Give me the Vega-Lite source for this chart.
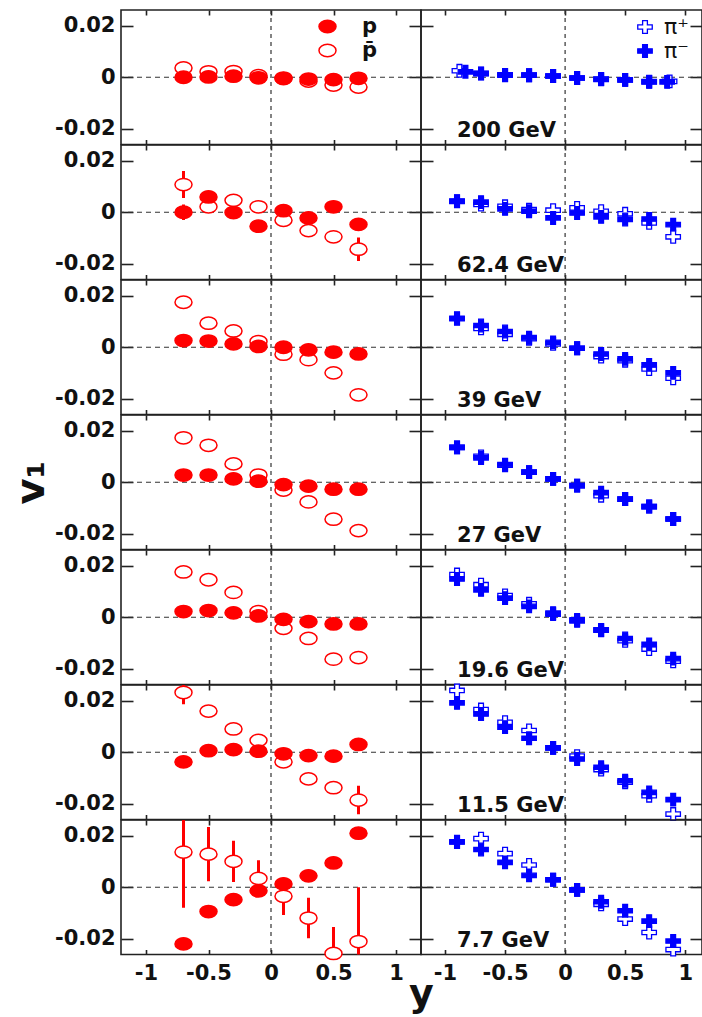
{
  "$schema": "https://vega.github.io/schema/vega-lite/v6.json",
  "background": "white",
  "padding": {"left": 10, "top": 8, "right": 2, "bottom": 0},
  "columns": 2,
  "spacing": 0,
  "align": "each",
  "bounds": "flush",
  "resolve": {"scale": {"fill": "independent"}, "legend": {"fill": "independent"}},
  "datasets": {
    "protons": [
      {"energy": "200 GeV", "species": "p̄", "rapidity": -0.7, "v1": 0.0036},
      {"energy": "200 GeV", "species": "p̄", "rapidity": -0.5, "v1": 0.0021},
      {"energy": "200 GeV", "species": "p̄", "rapidity": -0.3, "v1": 0.0022},
      {"energy": "200 GeV", "species": "p̄", "rapidity": -0.1, "v1": 0.0006},
      {"energy": "200 GeV", "species": "p̄", "rapidity": 0.1, "v1": -0.0003},
      {"energy": "200 GeV", "species": "p̄", "rapidity": 0.3, "v1": -0.0015},
      {"energy": "200 GeV", "species": "p̄", "rapidity": 0.5, "v1": -0.003},
      {"energy": "200 GeV", "species": "p̄", "rapidity": 0.7, "v1": -0.0038},
      {"energy": "200 GeV", "species": "p", "rapidity": -0.7, "v1": 0.0},
      {"energy": "200 GeV", "species": "p", "rapidity": -0.5, "v1": 0.0001},
      {"energy": "200 GeV", "species": "p", "rapidity": -0.3, "v1": 0.0004},
      {"energy": "200 GeV", "species": "p", "rapidity": -0.1, "v1": -0.0002},
      {"energy": "200 GeV", "species": "p", "rapidity": 0.1, "v1": -0.0005},
      {"energy": "200 GeV", "species": "p", "rapidity": 0.3, "v1": -0.0007},
      {"energy": "200 GeV", "species": "p", "rapidity": 0.5, "v1": -0.0009},
      {"energy": "200 GeV", "species": "p", "rapidity": 0.7, "v1": -0.0004},

      {"energy": "62.4 GeV", "species": "p̄", "rapidity": -0.7, "v1": 0.0107, "err": 0.0052},
      {"energy": "62.4 GeV", "species": "p̄", "rapidity": -0.5, "v1": 0.0021, "err": 0.002},
      {"energy": "62.4 GeV", "species": "p̄", "rapidity": -0.3, "v1": 0.0046, "err": 0.002},
      {"energy": "62.4 GeV", "species": "p̄", "rapidity": -0.1, "v1": 0.0021},
      {"energy": "62.4 GeV", "species": "p̄", "rapidity": 0.1, "v1": -0.0031},
      {"energy": "62.4 GeV", "species": "p̄", "rapidity": 0.3, "v1": -0.0071},
      {"energy": "62.4 GeV", "species": "p̄", "rapidity": 0.5, "v1": -0.0095},
      {"energy": "62.4 GeV", "species": "p̄", "rapidity": 0.7, "v1": -0.0143, "err": 0.0045},
      {"energy": "62.4 GeV", "species": "p", "rapidity": -0.7, "v1": 0.0, "err": 0.003},
      {"energy": "62.4 GeV", "species": "p", "rapidity": -0.5, "v1": 0.0059},
      {"energy": "62.4 GeV", "species": "p", "rapidity": -0.3, "v1": -0.0001},
      {"energy": "62.4 GeV", "species": "p", "rapidity": -0.1, "v1": -0.0054},
      {"energy": "62.4 GeV", "species": "p", "rapidity": 0.1, "v1": 0.0006},
      {"energy": "62.4 GeV", "species": "p", "rapidity": 0.3, "v1": -0.0022},
      {"energy": "62.4 GeV", "species": "p", "rapidity": 0.5, "v1": 0.0021},
      {"energy": "62.4 GeV", "species": "p", "rapidity": 0.7, "v1": -0.0047, "err": 0.0022},

      {"energy": "39 GeV", "species": "p̄", "rapidity": -0.7, "v1": 0.0174},
      {"energy": "39 GeV", "species": "p̄", "rapidity": -0.5, "v1": 0.0093},
      {"energy": "39 GeV", "species": "p̄", "rapidity": -0.3, "v1": 0.0063},
      {"energy": "39 GeV", "species": "p̄", "rapidity": -0.1, "v1": 0.0022},
      {"energy": "39 GeV", "species": "p̄", "rapidity": 0.1, "v1": -0.0027},
      {"energy": "39 GeV", "species": "p̄", "rapidity": 0.3, "v1": -0.0048},
      {"energy": "39 GeV", "species": "p̄", "rapidity": 0.5, "v1": -0.0099},
      {"energy": "39 GeV", "species": "p̄", "rapidity": 0.7, "v1": -0.0184},
      {"energy": "39 GeV", "species": "p", "rapidity": -0.7, "v1": 0.0026},
      {"energy": "39 GeV", "species": "p", "rapidity": -0.5, "v1": 0.0024},
      {"energy": "39 GeV", "species": "p", "rapidity": -0.3, "v1": 0.0013},
      {"energy": "39 GeV", "species": "p", "rapidity": -0.1, "v1": 0.0003},
      {"energy": "39 GeV", "species": "p", "rapidity": 0.1, "v1": 0.0},
      {"energy": "39 GeV", "species": "p", "rapidity": 0.3, "v1": -0.001},
      {"energy": "39 GeV", "species": "p", "rapidity": 0.5, "v1": -0.0019},
      {"energy": "39 GeV", "species": "p", "rapidity": 0.7, "v1": -0.0026},

      {"energy": "27 GeV", "species": "p̄", "rapidity": -0.7, "v1": 0.0172},
      {"energy": "27 GeV", "species": "p̄", "rapidity": -0.5, "v1": 0.0143},
      {"energy": "27 GeV", "species": "p̄", "rapidity": -0.3, "v1": 0.0071},
      {"energy": "27 GeV", "species": "p̄", "rapidity": -0.1, "v1": 0.0028},
      {"energy": "27 GeV", "species": "p̄", "rapidity": 0.1, "v1": -0.003},
      {"energy": "27 GeV", "species": "p̄", "rapidity": 0.3, "v1": -0.0076},
      {"energy": "27 GeV", "species": "p̄", "rapidity": 0.5, "v1": -0.0143},
      {"energy": "27 GeV", "species": "p̄", "rapidity": 0.7, "v1": -0.0187},
      {"energy": "27 GeV", "species": "p", "rapidity": -0.7, "v1": 0.0028},
      {"energy": "27 GeV", "species": "p", "rapidity": -0.5, "v1": 0.0028},
      {"energy": "27 GeV", "species": "p", "rapidity": -0.3, "v1": 0.0013},
      {"energy": "27 GeV", "species": "p", "rapidity": -0.1, "v1": 0.0004},
      {"energy": "27 GeV", "species": "p", "rapidity": 0.1, "v1": -0.0009},
      {"energy": "27 GeV", "species": "p", "rapidity": 0.3, "v1": -0.0015},
      {"energy": "27 GeV", "species": "p", "rapidity": 0.5, "v1": -0.0027},
      {"energy": "27 GeV", "species": "p", "rapidity": 0.7, "v1": -0.0027},

      {"energy": "19.6 GeV", "species": "p̄", "rapidity": -0.7, "v1": 0.0175},
      {"energy": "19.6 GeV", "species": "p̄", "rapidity": -0.5, "v1": 0.0145},
      {"energy": "19.6 GeV", "species": "p̄", "rapidity": -0.3, "v1": 0.0096},
      {"energy": "19.6 GeV", "species": "p̄", "rapidity": -0.1, "v1": 0.0022},
      {"energy": "19.6 GeV", "species": "p̄", "rapidity": 0.1, "v1": -0.0043},
      {"energy": "19.6 GeV", "species": "p̄", "rapidity": 0.3, "v1": -0.0082},
      {"energy": "19.6 GeV", "species": "p̄", "rapidity": 0.5, "v1": -0.0162},
      {"energy": "19.6 GeV", "species": "p̄", "rapidity": 0.7, "v1": -0.0156},
      {"energy": "19.6 GeV", "species": "p", "rapidity": -0.7, "v1": 0.0022},
      {"energy": "19.6 GeV", "species": "p", "rapidity": -0.5, "v1": 0.0026},
      {"energy": "19.6 GeV", "species": "p", "rapidity": -0.3, "v1": 0.0017},
      {"energy": "19.6 GeV", "species": "p", "rapidity": -0.1, "v1": 0.0005},
      {"energy": "19.6 GeV", "species": "p", "rapidity": 0.1, "v1": -0.0008},
      {"energy": "19.6 GeV", "species": "p", "rapidity": 0.3, "v1": -0.0017},
      {"energy": "19.6 GeV", "species": "p", "rapidity": 0.5, "v1": -0.0026},
      {"energy": "19.6 GeV", "species": "p", "rapidity": 0.7, "v1": -0.0026},

      {"energy": "11.5 GeV", "species": "p̄", "rapidity": -0.7, "v1": 0.0231, "err": 0.0045},
      {"energy": "11.5 GeV", "species": "p̄", "rapidity": -0.5, "v1": 0.0159, "err": 0.0012},
      {"energy": "11.5 GeV", "species": "p̄", "rapidity": -0.3, "v1": 0.009},
      {"energy": "11.5 GeV", "species": "p̄", "rapidity": -0.1, "v1": 0.0046},
      {"energy": "11.5 GeV", "species": "p̄", "rapidity": 0.1, "v1": -0.0037},
      {"energy": "11.5 GeV", "species": "p̄", "rapidity": 0.3, "v1": -0.0103},
      {"energy": "11.5 GeV", "species": "p̄", "rapidity": 0.5, "v1": -0.0137},
      {"energy": "11.5 GeV", "species": "p̄", "rapidity": 0.7, "v1": -0.0185, "err": 0.0055},
      {"energy": "11.5 GeV", "species": "p", "rapidity": -0.7, "v1": -0.0037},
      {"energy": "11.5 GeV", "species": "p", "rapidity": -0.5, "v1": 0.0006},
      {"energy": "11.5 GeV", "species": "p", "rapidity": -0.3, "v1": 0.001},
      {"energy": "11.5 GeV", "species": "p", "rapidity": -0.1, "v1": 0.0004},
      {"energy": "11.5 GeV", "species": "p", "rapidity": 0.1, "v1": -0.0006},
      {"energy": "11.5 GeV", "species": "p", "rapidity": 0.3, "v1": -0.0013},
      {"energy": "11.5 GeV", "species": "p", "rapidity": 0.5, "v1": -0.0015},
      {"energy": "11.5 GeV", "species": "p", "rapidity": 0.7, "v1": 0.003},

      {"energy": "7.7 GeV", "species": "p̄", "rapidity": -0.7, "v1": 0.0136, "err": 0.0215},
      {"energy": "7.7 GeV", "species": "p̄", "rapidity": -0.5, "v1": 0.0128, "err": 0.0105},
      {"energy": "7.7 GeV", "species": "p̄", "rapidity": -0.3, "v1": 0.01, "err": 0.008},
      {"energy": "7.7 GeV", "species": "p̄", "rapidity": -0.1, "v1": 0.0034, "err": 0.007},
      {"energy": "7.7 GeV", "species": "p̄", "rapidity": 0.1, "v1": -0.0035, "err": 0.0072},
      {"energy": "7.7 GeV", "species": "p̄", "rapidity": 0.3, "v1": -0.0119, "err": 0.0078},
      {"energy": "7.7 GeV", "species": "p̄", "rapidity": 0.5, "v1": -0.0256, "err": 0.0102},
      {"energy": "7.7 GeV", "species": "p̄", "rapidity": 0.7, "v1": -0.021, "err": 0.021},
      {"energy": "7.7 GeV", "species": "p", "rapidity": -0.7, "v1": -0.0219},
      {"energy": "7.7 GeV", "species": "p", "rapidity": -0.5, "v1": -0.0094},
      {"energy": "7.7 GeV", "species": "p", "rapidity": -0.3, "v1": -0.0048},
      {"energy": "7.7 GeV", "species": "p", "rapidity": -0.1, "v1": -0.0014},
      {"energy": "7.7 GeV", "species": "p", "rapidity": 0.1, "v1": 0.0013},
      {"energy": "7.7 GeV", "species": "p", "rapidity": 0.3, "v1": 0.0044},
      {"energy": "7.7 GeV", "species": "p", "rapidity": 0.5, "v1": 0.0094},
      {"energy": "7.7 GeV", "species": "p", "rapidity": 0.7, "v1": 0.0209}
    ],
    "pions": [
      {"energy": "200 GeV", "species": "π⁺", "rapidity": -0.88, "v1": 0.0025},
      {"energy": "200 GeV", "species": "π⁺", "rapidity": -0.7, "v1": 0.0015},
      {"energy": "200 GeV", "species": "π⁺", "rapidity": -0.5, "v1": 0.0009},
      {"energy": "200 GeV", "species": "π⁺", "rapidity": -0.3, "v1": 0.0008},
      {"energy": "200 GeV", "species": "π⁺", "rapidity": -0.1, "v1": 0.0005},
      {"energy": "200 GeV", "species": "π⁺", "rapidity": 0.1, "v1": -0.0003},
      {"energy": "200 GeV", "species": "π⁺", "rapidity": 0.3, "v1": -0.0007},
      {"energy": "200 GeV", "species": "π⁺", "rapidity": 0.5, "v1": -0.001},
      {"energy": "200 GeV", "species": "π⁺", "rapidity": 0.7, "v1": -0.0017},
      {"energy": "200 GeV", "species": "π⁺", "rapidity": 0.87, "v1": -0.0016},
      {"energy": "200 GeV", "species": "π⁻", "rapidity": -0.83, "v1": 0.0021},
      {"energy": "200 GeV", "species": "π⁻", "rapidity": -0.7, "v1": 0.0014},
      {"energy": "200 GeV", "species": "π⁻", "rapidity": -0.5, "v1": 0.0008},
      {"energy": "200 GeV", "species": "π⁻", "rapidity": -0.3, "v1": 0.0008},
      {"energy": "200 GeV", "species": "π⁻", "rapidity": -0.1, "v1": 0.0005},
      {"energy": "200 GeV", "species": "π⁻", "rapidity": 0.1, "v1": -0.0003},
      {"energy": "200 GeV", "species": "π⁻", "rapidity": 0.3, "v1": -0.0008},
      {"energy": "200 GeV", "species": "π⁻", "rapidity": 0.5, "v1": -0.001},
      {"energy": "200 GeV", "species": "π⁻", "rapidity": 0.7, "v1": -0.0018},
      {"energy": "200 GeV", "species": "π⁻", "rapidity": 0.85, "v1": -0.0018},

      {"energy": "62.4 GeV", "species": "π⁺", "rapidity": -0.9, "v1": 0.0042},
      {"energy": "62.4 GeV", "species": "π⁺", "rapidity": -0.7, "v1": 0.003},
      {"energy": "62.4 GeV", "species": "π⁺", "rapidity": -0.5, "v1": 0.0023},
      {"energy": "62.4 GeV", "species": "π⁺", "rapidity": -0.3, "v1": 0.001},
      {"energy": "62.4 GeV", "species": "π⁺", "rapidity": -0.1, "v1": 0.0008},
      {"energy": "62.4 GeV", "species": "π⁺", "rapidity": 0.1, "v1": 0.0017},
      {"energy": "62.4 GeV", "species": "π⁺", "rapidity": 0.3, "v1": 0.0004},
      {"energy": "62.4 GeV", "species": "π⁺", "rapidity": 0.5, "v1": -0.0006},
      {"energy": "62.4 GeV", "species": "π⁺", "rapidity": 0.7, "v1": -0.0041},
      {"energy": "62.4 GeV", "species": "π⁺", "rapidity": 0.9, "v1": -0.0095},
      {"energy": "62.4 GeV", "species": "π⁻", "rapidity": -0.9, "v1": 0.0043},
      {"energy": "62.4 GeV", "species": "π⁻", "rapidity": -0.7, "v1": 0.0039},
      {"energy": "62.4 GeV", "species": "π⁻", "rapidity": -0.5, "v1": 0.0013},
      {"energy": "62.4 GeV", "species": "π⁻", "rapidity": -0.3, "v1": 0.0004},
      {"energy": "62.4 GeV", "species": "π⁻", "rapidity": -0.1, "v1": -0.0022},
      {"energy": "62.4 GeV", "species": "π⁻", "rapidity": 0.1, "v1": -0.0003},
      {"energy": "62.4 GeV", "species": "π⁻", "rapidity": 0.3, "v1": -0.0018},
      {"energy": "62.4 GeV", "species": "π⁻", "rapidity": 0.5, "v1": -0.0028},
      {"energy": "62.4 GeV", "species": "π⁻", "rapidity": 0.7, "v1": -0.0026},
      {"energy": "62.4 GeV", "species": "π⁻", "rapidity": 0.9, "v1": -0.0048},

      {"energy": "39 GeV", "species": "π⁺", "rapidity": -0.9, "v1": 0.011},
      {"energy": "39 GeV", "species": "π⁺", "rapidity": -0.7, "v1": 0.0073},
      {"energy": "39 GeV", "species": "π⁺", "rapidity": -0.5, "v1": 0.005},
      {"energy": "39 GeV", "species": "π⁺", "rapidity": -0.3, "v1": 0.0033},
      {"energy": "39 GeV", "species": "π⁺", "rapidity": -0.1, "v1": 0.0013},
      {"energy": "39 GeV", "species": "π⁺", "rapidity": 0.1, "v1": -0.0004},
      {"energy": "39 GeV", "species": "π⁺", "rapidity": 0.3, "v1": -0.0036},
      {"energy": "39 GeV", "species": "π⁺", "rapidity": 0.5, "v1": -0.0052},
      {"energy": "39 GeV", "species": "π⁺", "rapidity": 0.7, "v1": -0.0084},
      {"energy": "39 GeV", "species": "π⁺", "rapidity": 0.9, "v1": -0.012},
      {"energy": "39 GeV", "species": "π⁻", "rapidity": -0.9, "v1": 0.0112},
      {"energy": "39 GeV", "species": "π⁻", "rapidity": -0.7, "v1": 0.0084},
      {"energy": "39 GeV", "species": "π⁻", "rapidity": -0.5, "v1": 0.0061},
      {"energy": "39 GeV", "species": "π⁻", "rapidity": -0.3, "v1": 0.0037},
      {"energy": "39 GeV", "species": "π⁻", "rapidity": -0.1, "v1": 0.0019},
      {"energy": "39 GeV", "species": "π⁻", "rapidity": 0.1, "v1": -0.0004},
      {"energy": "39 GeV", "species": "π⁻", "rapidity": 0.3, "v1": -0.0026},
      {"energy": "39 GeV", "species": "π⁻", "rapidity": 0.5, "v1": -0.0045},
      {"energy": "39 GeV", "species": "π⁻", "rapidity": 0.7, "v1": -0.0068},
      {"energy": "39 GeV", "species": "π⁻", "rapidity": 0.9, "v1": -0.0099},

      {"energy": "27 GeV", "species": "π⁺", "rapidity": -0.9, "v1": 0.0135},
      {"energy": "27 GeV", "species": "π⁺", "rapidity": -0.7, "v1": 0.01},
      {"energy": "27 GeV", "species": "π⁺", "rapidity": -0.5, "v1": 0.0066},
      {"energy": "27 GeV", "species": "π⁺", "rapidity": -0.3, "v1": 0.0039},
      {"energy": "27 GeV", "species": "π⁺", "rapidity": -0.1, "v1": 0.0013},
      {"energy": "27 GeV", "species": "π⁺", "rapidity": 0.1, "v1": -0.0013},
      {"energy": "27 GeV", "species": "π⁺", "rapidity": 0.3, "v1": -0.0052},
      {"energy": "27 GeV", "species": "π⁺", "rapidity": 0.5, "v1": -0.0065},
      {"energy": "27 GeV", "species": "π⁺", "rapidity": 0.7, "v1": -0.0094},
      {"energy": "27 GeV", "species": "π⁺", "rapidity": 0.9, "v1": -0.0142},
      {"energy": "27 GeV", "species": "π⁻", "rapidity": -0.9, "v1": 0.0135},
      {"energy": "27 GeV", "species": "π⁻", "rapidity": -0.7, "v1": 0.0094},
      {"energy": "27 GeV", "species": "π⁻", "rapidity": -0.5, "v1": 0.0068},
      {"energy": "27 GeV", "species": "π⁻", "rapidity": -0.3, "v1": 0.0039},
      {"energy": "27 GeV", "species": "π⁻", "rapidity": -0.1, "v1": 0.0013},
      {"energy": "27 GeV", "species": "π⁻", "rapidity": 0.1, "v1": -0.0013},
      {"energy": "27 GeV", "species": "π⁻", "rapidity": 0.3, "v1": -0.004},
      {"energy": "27 GeV", "species": "π⁻", "rapidity": 0.5, "v1": -0.0065},
      {"energy": "27 GeV", "species": "π⁻", "rapidity": 0.7, "v1": -0.0094},
      {"energy": "27 GeV", "species": "π⁻", "rapidity": 0.9, "v1": -0.0142},

      {"energy": "19.6 GeV", "species": "π⁺", "rapidity": -0.9, "v1": 0.0165},
      {"energy": "19.6 GeV", "species": "π⁺", "rapidity": -0.7, "v1": 0.0126},
      {"energy": "19.6 GeV", "species": "π⁺", "rapidity": -0.5, "v1": 0.0084},
      {"energy": "19.6 GeV", "species": "π⁺", "rapidity": -0.3, "v1": 0.0052},
      {"energy": "19.6 GeV", "species": "π⁺", "rapidity": -0.1, "v1": 0.0012},
      {"energy": "19.6 GeV", "species": "π⁺", "rapidity": 0.1, "v1": -0.001},
      {"energy": "19.6 GeV", "species": "π⁺", "rapidity": 0.3, "v1": -0.005},
      {"energy": "19.6 GeV", "species": "π⁺", "rapidity": 0.5, "v1": -0.0091},
      {"energy": "19.6 GeV", "species": "π⁺", "rapidity": 0.7, "v1": -0.0123},
      {"energy": "19.6 GeV", "species": "π⁺", "rapidity": 0.9, "v1": -0.017},
      {"energy": "19.6 GeV", "species": "π⁻", "rapidity": -0.9, "v1": 0.0148},
      {"energy": "19.6 GeV", "species": "π⁻", "rapidity": -0.7, "v1": 0.0106},
      {"energy": "19.6 GeV", "species": "π⁻", "rapidity": -0.5, "v1": 0.0074},
      {"energy": "19.6 GeV", "species": "π⁻", "rapidity": -0.3, "v1": 0.0042},
      {"energy": "19.6 GeV", "species": "π⁻", "rapidity": -0.1, "v1": 0.0016},
      {"energy": "19.6 GeV", "species": "π⁻", "rapidity": 0.1, "v1": -0.0014},
      {"energy": "19.6 GeV", "species": "π⁻", "rapidity": 0.3, "v1": -0.0049},
      {"energy": "19.6 GeV", "species": "π⁻", "rapidity": 0.5, "v1": -0.0082},
      {"energy": "19.6 GeV", "species": "π⁻", "rapidity": 0.7, "v1": -0.0105},
      {"energy": "19.6 GeV", "species": "π⁻", "rapidity": 0.9, "v1": -0.016},

      {"energy": "11.5 GeV", "species": "π⁺", "rapidity": -0.9, "v1": 0.0239},
      {"energy": "11.5 GeV", "species": "π⁺", "rapidity": -0.7, "v1": 0.0165},
      {"energy": "11.5 GeV", "species": "π⁺", "rapidity": -0.5, "v1": 0.0116},
      {"energy": "11.5 GeV", "species": "π⁺", "rapidity": -0.3, "v1": 0.0084},
      {"energy": "11.5 GeV", "species": "π⁺", "rapidity": -0.1, "v1": 0.0017},
      {"energy": "11.5 GeV", "species": "π⁺", "rapidity": 0.1, "v1": -0.0015},
      {"energy": "11.5 GeV", "species": "π⁺", "rapidity": 0.3, "v1": -0.0067},
      {"energy": "11.5 GeV", "species": "π⁺", "rapidity": 0.5, "v1": -0.0116},
      {"energy": "11.5 GeV", "species": "π⁺", "rapidity": 0.7, "v1": -0.0168},
      {"energy": "11.5 GeV", "species": "π⁺", "rapidity": 0.9, "v1": -0.0239},
      {"energy": "11.5 GeV", "species": "π⁻", "rapidity": -0.9, "v1": 0.0191},
      {"energy": "11.5 GeV", "species": "π⁻", "rapidity": -0.7, "v1": 0.0148},
      {"energy": "11.5 GeV", "species": "π⁻", "rapidity": -0.5, "v1": 0.0097},
      {"energy": "11.5 GeV", "species": "π⁻", "rapidity": -0.3, "v1": 0.0054},
      {"energy": "11.5 GeV", "species": "π⁻", "rapidity": -0.1, "v1": 0.0017},
      {"energy": "11.5 GeV", "species": "π⁻", "rapidity": 0.1, "v1": -0.0026},
      {"energy": "11.5 GeV", "species": "π⁻", "rapidity": 0.3, "v1": -0.0058},
      {"energy": "11.5 GeV", "species": "π⁻", "rapidity": 0.5, "v1": -0.011},
      {"energy": "11.5 GeV", "species": "π⁻", "rapidity": 0.7, "v1": -0.0155},
      {"energy": "11.5 GeV", "species": "π⁻", "rapidity": 0.9, "v1": -0.0183},

      {"energy": "7.7 GeV", "species": "π⁺", "rapidity": -0.9, "v1": 0.0176},
      {"energy": "7.7 GeV", "species": "π⁺", "rapidity": -0.7, "v1": 0.0188},
      {"energy": "7.7 GeV", "species": "π⁺", "rapidity": -0.5, "v1": 0.013},
      {"energy": "7.7 GeV", "species": "π⁺", "rapidity": -0.3, "v1": 0.0086},
      {"energy": "7.7 GeV", "species": "π⁺", "rapidity": -0.1, "v1": 0.0029},
      {"energy": "7.7 GeV", "species": "π⁺", "rapidity": 0.1, "v1": -0.001},
      {"energy": "7.7 GeV", "species": "π⁺", "rapidity": 0.3, "v1": -0.0066},
      {"energy": "7.7 GeV", "species": "π⁺", "rapidity": 0.5, "v1": -0.0123},
      {"energy": "7.7 GeV", "species": "π⁺", "rapidity": 0.7, "v1": -0.0175},
      {"energy": "7.7 GeV", "species": "π⁺", "rapidity": 0.9, "v1": -0.0241},
      {"energy": "7.7 GeV", "species": "π⁻", "rapidity": -0.9, "v1": 0.0175},
      {"energy": "7.7 GeV", "species": "π⁻", "rapidity": -0.7, "v1": 0.0146},
      {"energy": "7.7 GeV", "species": "π⁻", "rapidity": -0.5, "v1": 0.0096},
      {"energy": "7.7 GeV", "species": "π⁻", "rapidity": -0.3, "v1": 0.0046},
      {"energy": "7.7 GeV", "species": "π⁻", "rapidity": -0.1, "v1": 0.0029},
      {"energy": "7.7 GeV", "species": "π⁻", "rapidity": 0.1, "v1": -0.001},
      {"energy": "7.7 GeV", "species": "π⁻", "rapidity": 0.3, "v1": -0.0056},
      {"energy": "7.7 GeV", "species": "π⁻", "rapidity": 0.5, "v1": -0.0091},
      {"energy": "7.7 GeV", "species": "π⁻", "rapidity": 0.7, "v1": -0.0131},
      {"energy": "7.7 GeV", "species": "π⁻", "rapidity": 0.9, "v1": -0.0208}
    ]
  },
  "concat": [
    {
      "width": 300, "height": 134.5,
      "layer": [
        {"data": {"values": [{"ref": 0}]}, "mark": {"type": "rule", "color": "#333", "strokeWidth": 1.2, "strokeDash": [5, 4]},
         "encoding": {"y": {"field": "ref", "type": "quantitative", "scale": {"domain": [-0.026, 0.026], "nice": false, "zero": false}, "axis": {"orient": "right", "values": [-0.02, 0, 0.02], "tickSize": -12, "labels": false, "title": null}}}},
        {"data": {"values": [{"ref": 0}]}, "mark": {"type": "rule", "color": "#333", "strokeWidth": 1.2, "strokeDash": [4, 4]},
         "encoding": {"x": {"field": "ref", "type": "quantitative", "scale": {"domain": [-1.2, 1.2], "nice": false, "zero": false}, "axis": {"orient": "top", "values": [-1, -0.5, 0, 0.5, 1], "tickSize": -5, "labels": false, "title": null}}}},
        {"data": {"name": "protons"}, "transform": [{"filter": {"field": "energy", "equal": "200 GeV"}}],
         "mark": {"type": "point", "shape": "M-1,0A1,0.72,0,1,1,1,0A1,0.72,0,1,1,-1,0Z", "size": 290, "filled": true, "opacity": 1, "stroke": "#ff0000", "strokeWidth": 1.5},
         "encoding": {
           "x": {"field": "rapidity", "type": "quantitative", "scale": {"domain": [-1.2, 1.2], "nice": false, "zero": false}, "axis": {"orient": "bottom", "values": [-1, -0.5, 0, 0.5, 1], "tickSize": -5, "labels": false, "title": null}},
           "y": {"field": "v1", "type": "quantitative", "scale": {"domain": [-0.026, 0.026], "nice": false, "zero": false}, "axis": {"orient": "left", "values": [-0.02, 0, 0.02], "tickSize": -12, "labelPadding": 18, "labelExpr": "datum.value + ''", "title": null}},
           "fill": {"field": "species", "type": "nominal", "scale": {"domain": ["p", "p̄"], "range": ["#ff0000", "#ffffff"]},
             "legend": {"orient": "none", "legendX": 196, "legendY": 6, "title": null, "padding": 0, "rowPadding": 2, "symbolType": "M-1,0A1,0.72,0,1,1,1,0A1,0.72,0,1,1,-1,0Z", "symbolSize": 290, "symbolStrokeColor": "#ff0000", "symbolStrokeWidth": 1.5, "symbolOpacity": 1, "labelFont": "DejaVu Sans", "labelFontWeight": "bold", "labelFontSize": 21, "labelColor": "#111", "labelOffset": 24}}
         }}
      ]
    },
    {
      "width": 281, "height": 134.5,
      "layer": [
        {"data": {"values": [{"ref": 0}]}, "mark": {"type": "rule", "color": "#333", "strokeWidth": 1.2, "strokeDash": [5, 4]},
         "encoding": {"y": {"field": "ref", "type": "quantitative", "scale": {"domain": [-0.026, 0.026], "nice": false, "zero": false}, "axis": {"orient": "right", "values": [-0.02, 0, 0.02], "tickSize": -12, "labels": false, "title": null}}}},
        {"data": {"values": [{"ref": 0}]}, "mark": {"type": "rule", "color": "#333", "strokeWidth": 1.2, "strokeDash": [4, 4]},
         "encoding": {"x": {"field": "ref", "type": "quantitative", "scale": {"domain": [-1.2, 1.14], "nice": false, "zero": false}, "axis": {"orient": "top", "values": [-1, -0.5, 0, 0.5, 1], "tickSize": -5, "labels": false, "title": null}}}},
        {"data": {"values": [{"label": "200 GeV"}]}, "mark": {"type": "text", "align": "left", "baseline": "alphabetic", "font": "DejaVu Sans", "fontWeight": "bold", "fontSize": 21, "color": "#111"},
         "encoding": {"x": {"datum": -0.9, "type": "quantitative", "scale": {"domain": [-1.2, 1.14], "nice": false, "zero": false}, "axis": null}, "y": {"datum": -0.023, "type": "quantitative", "scale": {"domain": [-0.026, 0.026], "nice": false, "zero": false}, "axis": null}, "text": {"field": "label"}}},
        {"data": {"name": "pions"}, "transform": [{"filter": {"field": "energy", "equal": "200 GeV"}}],
         "mark": {"type": "point", "shape": "M-1,-0.3H-0.33V-0.87H0.33V-0.3H1V0.3H0.33V0.87H-0.33V0.3H-1Z", "size": 210, "filled": true, "opacity": 1, "stroke": "#0000ff", "strokeWidth": 1.3},
         "encoding": {
           "x": {"field": "rapidity", "type": "quantitative", "scale": {"domain": [-1.2, 1.14], "nice": false, "zero": false}, "axis": {"orient": "bottom", "values": [-1, -0.5, 0, 0.5, 1], "tickSize": -5, "labels": false, "title": null}},
           "y": {"field": "v1", "type": "quantitative", "scale": {"domain": [-0.026, 0.026], "nice": false, "zero": false}, "axis": {"orient": "left", "values": [-0.02, 0, 0.02], "tickSize": -12, "labels": false, "title": null}},
           "fill": {"field": "species", "type": "nominal", "scale": {"domain": ["π⁺", "π⁻"], "range": ["#ffffff", "#0000ff"]},
             "legend": {"orient": "none", "legendX": 213, "legendY": 6, "title": null, "padding": 0, "rowPadding": 2, "symbolType": "M-1,-0.3H-0.33V-0.87H0.33V-0.3H1V0.3H0.33V0.87H-0.33V0.3H-1Z", "symbolSize": 210, "symbolStrokeColor": "#0000ff", "symbolStrokeWidth": 1.3, "symbolOpacity": 1, "labelFont": "DejaVu Sans", "labelFontSize": 22, "labelColor": "#111", "labelOffset": 8}}
         }}
      ]
    },
    {
      "width": 300, "height": 134.5,
      "layer": [
        {"data": {"values": [{"ref": 0}]}, "mark": {"type": "rule", "color": "#333", "strokeWidth": 1.2, "strokeDash": [5, 4]},
         "encoding": {"y": {"field": "ref", "type": "quantitative", "scale": {"domain": [-0.026, 0.026], "nice": false, "zero": false}, "axis": {"orient": "right", "values": [-0.02, 0, 0.02], "tickSize": -12, "labels": false, "title": null}}}},
        {"data": {"values": [{"ref": 0}]}, "mark": {"type": "rule", "color": "#333", "strokeWidth": 1.2, "strokeDash": [4, 4]},
         "encoding": {"x": {"field": "ref", "type": "quantitative", "scale": {"domain": [-1.2, 1.2], "nice": false, "zero": false}, "axis": {"orient": "top", "values": [-1, -0.5, 0, 0.5, 1], "tickSize": -5, "labels": false, "title": null}}}},
        {"data": {"name": "protons"}, "transform": [{"filter": "datum.energy == '62.4 GeV' && datum.err > 0"}],
         "mark": {"type": "errorbar", "color": "#ff0000", "thickness": 3, "clip": true},
         "encoding": {"x": {"field": "rapidity", "type": "quantitative", "scale": {"domain": [-1.2, 1.2], "nice": false, "zero": false}, "axis": null}, "y": {"field": "v1", "type": "quantitative", "scale": {"domain": [-0.026, 0.026], "nice": false, "zero": false}, "axis": null}, "yError": {"field": "err"}}},
        {"data": {"name": "protons"}, "transform": [{"filter": {"field": "energy", "equal": "62.4 GeV"}}],
         "mark": {"type": "point", "shape": "M-1,0A1,0.72,0,1,1,1,0A1,0.72,0,1,1,-1,0Z", "size": 290, "filled": true, "opacity": 1, "stroke": "#ff0000", "strokeWidth": 1.5},
         "encoding": {
           "x": {"field": "rapidity", "type": "quantitative", "scale": {"domain": [-1.2, 1.2], "nice": false, "zero": false}, "axis": {"orient": "bottom", "values": [-1, -0.5, 0, 0.5, 1], "tickSize": -5, "labels": false, "title": null}},
           "y": {"field": "v1", "type": "quantitative", "scale": {"domain": [-0.026, 0.026], "nice": false, "zero": false}, "axis": {"orient": "left", "values": [-0.02, 0, 0.02], "tickSize": -12, "labelPadding": 18, "labelExpr": "datum.value + ''", "title": null}},
           "fill": {"field": "species", "type": "nominal", "scale": {"domain": ["p", "p̄"], "range": ["#ff0000", "#ffffff"]}, "legend": null}
         }}
      ]
    },
    {
      "width": 281, "height": 134.5,
      "layer": [
        {"data": {"values": [{"ref": 0}]}, "mark": {"type": "rule", "color": "#333", "strokeWidth": 1.2, "strokeDash": [5, 4]},
         "encoding": {"y": {"field": "ref", "type": "quantitative", "scale": {"domain": [-0.026, 0.026], "nice": false, "zero": false}, "axis": {"orient": "right", "values": [-0.02, 0, 0.02], "tickSize": -12, "labels": false, "title": null}}}},
        {"data": {"values": [{"ref": 0}]}, "mark": {"type": "rule", "color": "#333", "strokeWidth": 1.2, "strokeDash": [4, 4]},
         "encoding": {"x": {"field": "ref", "type": "quantitative", "scale": {"domain": [-1.2, 1.14], "nice": false, "zero": false}, "axis": {"orient": "top", "values": [-1, -0.5, 0, 0.5, 1], "tickSize": -5, "labels": false, "title": null}}}},
        {"data": {"values": [{"label": "62.4 GeV"}]}, "mark": {"type": "text", "align": "left", "baseline": "alphabetic", "font": "DejaVu Sans", "fontWeight": "bold", "fontSize": 21, "color": "#111"},
         "encoding": {"x": {"datum": -0.9, "type": "quantitative", "scale": {"domain": [-1.2, 1.14], "nice": false, "zero": false}, "axis": null}, "y": {"datum": -0.023, "type": "quantitative", "scale": {"domain": [-0.026, 0.026], "nice": false, "zero": false}, "axis": null}, "text": {"field": "label"}}},
        {"data": {"name": "pions"}, "transform": [{"filter": {"field": "energy", "equal": "62.4 GeV"}}],
         "mark": {"type": "point", "shape": "M-1,-0.3H-0.33V-0.87H0.33V-0.3H1V0.3H0.33V0.87H-0.33V0.3H-1Z", "size": 210, "filled": true, "opacity": 1, "stroke": "#0000ff", "strokeWidth": 1.3},
         "encoding": {
           "x": {"field": "rapidity", "type": "quantitative", "scale": {"domain": [-1.2, 1.14], "nice": false, "zero": false}, "axis": {"orient": "bottom", "values": [-1, -0.5, 0, 0.5, 1], "tickSize": -5, "labels": false, "title": null}},
           "y": {"field": "v1", "type": "quantitative", "scale": {"domain": [-0.026, 0.026], "nice": false, "zero": false}, "axis": {"orient": "left", "values": [-0.02, 0, 0.02], "tickSize": -12, "labels": false, "title": null}},
           "fill": {"field": "species", "type": "nominal", "scale": {"domain": ["π⁺", "π⁻"], "range": ["#ffffff", "#0000ff"]}, "legend": null}
         }}
      ]
    },
    {
      "width": 300, "height": 134.5,
      "layer": [
        {"data": {"values": [{"ref": 0}]}, "mark": {"type": "rule", "color": "#333", "strokeWidth": 1.2, "strokeDash": [5, 4]},
         "encoding": {"y": {"field": "ref", "type": "quantitative", "scale": {"domain": [-0.026, 0.026], "nice": false, "zero": false}, "axis": {"orient": "right", "values": [-0.02, 0, 0.02], "tickSize": -12, "labels": false, "title": null}}}},
        {"data": {"values": [{"ref": 0}]}, "mark": {"type": "rule", "color": "#333", "strokeWidth": 1.2, "strokeDash": [4, 4]},
         "encoding": {"x": {"field": "ref", "type": "quantitative", "scale": {"domain": [-1.2, 1.2], "nice": false, "zero": false}, "axis": {"orient": "top", "values": [-1, -0.5, 0, 0.5, 1], "tickSize": -5, "labels": false, "title": null}}}},
        {"data": {"name": "protons"}, "transform": [{"filter": {"field": "energy", "equal": "39 GeV"}}],
         "mark": {"type": "point", "shape": "M-1,0A1,0.72,0,1,1,1,0A1,0.72,0,1,1,-1,0Z", "size": 290, "filled": true, "opacity": 1, "stroke": "#ff0000", "strokeWidth": 1.5},
         "encoding": {
           "x": {"field": "rapidity", "type": "quantitative", "scale": {"domain": [-1.2, 1.2], "nice": false, "zero": false}, "axis": {"orient": "bottom", "values": [-1, -0.5, 0, 0.5, 1], "tickSize": -5, "labels": false, "title": null}},
           "y": {"field": "v1", "type": "quantitative", "scale": {"domain": [-0.026, 0.026], "nice": false, "zero": false}, "axis": {"orient": "left", "values": [-0.02, 0, 0.02], "tickSize": -12, "labelPadding": 18, "labelExpr": "datum.value + ''", "title": null}},
           "fill": {"field": "species", "type": "nominal", "scale": {"domain": ["p", "p̄"], "range": ["#ff0000", "#ffffff"]}, "legend": null}
         }}
      ]
    },
    {
      "width": 281, "height": 134.5,
      "layer": [
        {"data": {"values": [{"ref": 0}]}, "mark": {"type": "rule", "color": "#333", "strokeWidth": 1.2, "strokeDash": [5, 4]},
         "encoding": {"y": {"field": "ref", "type": "quantitative", "scale": {"domain": [-0.026, 0.026], "nice": false, "zero": false}, "axis": {"orient": "right", "values": [-0.02, 0, 0.02], "tickSize": -12, "labels": false, "title": null}}}},
        {"data": {"values": [{"ref": 0}]}, "mark": {"type": "rule", "color": "#333", "strokeWidth": 1.2, "strokeDash": [4, 4]},
         "encoding": {"x": {"field": "ref", "type": "quantitative", "scale": {"domain": [-1.2, 1.14], "nice": false, "zero": false}, "axis": {"orient": "top", "values": [-1, -0.5, 0, 0.5, 1], "tickSize": -5, "labels": false, "title": null}}}},
        {"data": {"values": [{"label": "39 GeV"}]}, "mark": {"type": "text", "align": "left", "baseline": "alphabetic", "font": "DejaVu Sans", "fontWeight": "bold", "fontSize": 21, "color": "#111"},
         "encoding": {"x": {"datum": -0.9, "type": "quantitative", "scale": {"domain": [-1.2, 1.14], "nice": false, "zero": false}, "axis": null}, "y": {"datum": -0.023, "type": "quantitative", "scale": {"domain": [-0.026, 0.026], "nice": false, "zero": false}, "axis": null}, "text": {"field": "label"}}},
        {"data": {"name": "pions"}, "transform": [{"filter": {"field": "energy", "equal": "39 GeV"}}],
         "mark": {"type": "point", "shape": "M-1,-0.3H-0.33V-0.87H0.33V-0.3H1V0.3H0.33V0.87H-0.33V0.3H-1Z", "size": 210, "filled": true, "opacity": 1, "stroke": "#0000ff", "strokeWidth": 1.3},
         "encoding": {
           "x": {"field": "rapidity", "type": "quantitative", "scale": {"domain": [-1.2, 1.14], "nice": false, "zero": false}, "axis": {"orient": "bottom", "values": [-1, -0.5, 0, 0.5, 1], "tickSize": -5, "labels": false, "title": null}},
           "y": {"field": "v1", "type": "quantitative", "scale": {"domain": [-0.026, 0.026], "nice": false, "zero": false}, "axis": {"orient": "left", "values": [-0.02, 0, 0.02], "tickSize": -12, "labels": false, "title": null}},
           "fill": {"field": "species", "type": "nominal", "scale": {"domain": ["π⁺", "π⁻"], "range": ["#ffffff", "#0000ff"]}, "legend": null}
         }}
      ]
    },
    {
      "width": 300, "height": 134.5,
      "layer": [
        {"data": {"values": [{"ref": 0}]}, "mark": {"type": "rule", "color": "#333", "strokeWidth": 1.2, "strokeDash": [5, 4]},
         "encoding": {"y": {"field": "ref", "type": "quantitative", "scale": {"domain": [-0.026, 0.026], "nice": false, "zero": false}, "axis": {"orient": "right", "values": [-0.02, 0, 0.02], "tickSize": -12, "labels": false, "title": null}}}},
        {"data": {"values": [{"ref": 0}]}, "mark": {"type": "rule", "color": "#333", "strokeWidth": 1.2, "strokeDash": [4, 4]},
         "encoding": {"x": {"field": "ref", "type": "quantitative", "scale": {"domain": [-1.2, 1.2], "nice": false, "zero": false}, "axis": {"orient": "top", "values": [-1, -0.5, 0, 0.5, 1], "tickSize": -5, "labels": false, "title": null}}}},
        {"data": {"name": "protons"}, "transform": [{"filter": {"field": "energy", "equal": "27 GeV"}}],
         "mark": {"type": "point", "shape": "M-1,0A1,0.72,0,1,1,1,0A1,0.72,0,1,1,-1,0Z", "size": 290, "filled": true, "opacity": 1, "stroke": "#ff0000", "strokeWidth": 1.5},
         "encoding": {
           "x": {"field": "rapidity", "type": "quantitative", "scale": {"domain": [-1.2, 1.2], "nice": false, "zero": false}, "axis": {"orient": "bottom", "values": [-1, -0.5, 0, 0.5, 1], "tickSize": -5, "labels": false, "title": null}},
           "y": {"field": "v1", "type": "quantitative", "scale": {"domain": [-0.026, 0.026], "nice": false, "zero": false}, "axis": {"orient": "left", "values": [-0.02, 0, 0.02], "tickSize": -12, "labelPadding": 18, "labelExpr": "datum.value + ''", "title": "v₁", "titleFontSize": 40, "titlePadding": 3}},
           "fill": {"field": "species", "type": "nominal", "scale": {"domain": ["p", "p̄"], "range": ["#ff0000", "#ffffff"]}, "legend": null}
         }}
      ]
    },
    {
      "width": 281, "height": 134.5,
      "layer": [
        {"data": {"values": [{"ref": 0}]}, "mark": {"type": "rule", "color": "#333", "strokeWidth": 1.2, "strokeDash": [5, 4]},
         "encoding": {"y": {"field": "ref", "type": "quantitative", "scale": {"domain": [-0.026, 0.026], "nice": false, "zero": false}, "axis": {"orient": "right", "values": [-0.02, 0, 0.02], "tickSize": -12, "labels": false, "title": null}}}},
        {"data": {"values": [{"ref": 0}]}, "mark": {"type": "rule", "color": "#333", "strokeWidth": 1.2, "strokeDash": [4, 4]},
         "encoding": {"x": {"field": "ref", "type": "quantitative", "scale": {"domain": [-1.2, 1.14], "nice": false, "zero": false}, "axis": {"orient": "top", "values": [-1, -0.5, 0, 0.5, 1], "tickSize": -5, "labels": false, "title": null}}}},
        {"data": {"values": [{"label": "27 GeV"}]}, "mark": {"type": "text", "align": "left", "baseline": "alphabetic", "font": "DejaVu Sans", "fontWeight": "bold", "fontSize": 21, "color": "#111"},
         "encoding": {"x": {"datum": -0.9, "type": "quantitative", "scale": {"domain": [-1.2, 1.14], "nice": false, "zero": false}, "axis": null}, "y": {"datum": -0.023, "type": "quantitative", "scale": {"domain": [-0.026, 0.026], "nice": false, "zero": false}, "axis": null}, "text": {"field": "label"}}},
        {"data": {"name": "pions"}, "transform": [{"filter": {"field": "energy", "equal": "27 GeV"}}],
         "mark": {"type": "point", "shape": "M-1,-0.3H-0.33V-0.87H0.33V-0.3H1V0.3H0.33V0.87H-0.33V0.3H-1Z", "size": 210, "filled": true, "opacity": 1, "stroke": "#0000ff", "strokeWidth": 1.3},
         "encoding": {
           "x": {"field": "rapidity", "type": "quantitative", "scale": {"domain": [-1.2, 1.14], "nice": false, "zero": false}, "axis": {"orient": "bottom", "values": [-1, -0.5, 0, 0.5, 1], "tickSize": -5, "labels": false, "title": null}},
           "y": {"field": "v1", "type": "quantitative", "scale": {"domain": [-0.026, 0.026], "nice": false, "zero": false}, "axis": {"orient": "left", "values": [-0.02, 0, 0.02], "tickSize": -12, "labels": false, "title": null}},
           "fill": {"field": "species", "type": "nominal", "scale": {"domain": ["π⁺", "π⁻"], "range": ["#ffffff", "#0000ff"]}, "legend": null}
         }}
      ]
    },
    {
      "width": 300, "height": 134.5,
      "layer": [
        {"data": {"values": [{"ref": 0}]}, "mark": {"type": "rule", "color": "#333", "strokeWidth": 1.2, "strokeDash": [5, 4]},
         "encoding": {"y": {"field": "ref", "type": "quantitative", "scale": {"domain": [-0.026, 0.026], "nice": false, "zero": false}, "axis": {"orient": "right", "values": [-0.02, 0, 0.02], "tickSize": -12, "labels": false, "title": null}}}},
        {"data": {"values": [{"ref": 0}]}, "mark": {"type": "rule", "color": "#333", "strokeWidth": 1.2, "strokeDash": [4, 4]},
         "encoding": {"x": {"field": "ref", "type": "quantitative", "scale": {"domain": [-1.2, 1.2], "nice": false, "zero": false}, "axis": {"orient": "top", "values": [-1, -0.5, 0, 0.5, 1], "tickSize": -5, "labels": false, "title": null}}}},
        {"data": {"name": "protons"}, "transform": [{"filter": {"field": "energy", "equal": "19.6 GeV"}}],
         "mark": {"type": "point", "shape": "M-1,0A1,0.72,0,1,1,1,0A1,0.72,0,1,1,-1,0Z", "size": 290, "filled": true, "opacity": 1, "stroke": "#ff0000", "strokeWidth": 1.5},
         "encoding": {
           "x": {"field": "rapidity", "type": "quantitative", "scale": {"domain": [-1.2, 1.2], "nice": false, "zero": false}, "axis": {"orient": "bottom", "values": [-1, -0.5, 0, 0.5, 1], "tickSize": -5, "labels": false, "title": null}},
           "y": {"field": "v1", "type": "quantitative", "scale": {"domain": [-0.026, 0.026], "nice": false, "zero": false}, "axis": {"orient": "left", "values": [-0.02, 0, 0.02], "tickSize": -12, "labelPadding": 18, "labelExpr": "datum.value + ''", "title": null}},
           "fill": {"field": "species", "type": "nominal", "scale": {"domain": ["p", "p̄"], "range": ["#ff0000", "#ffffff"]}, "legend": null}
         }}
      ]
    },
    {
      "width": 281, "height": 134.5,
      "layer": [
        {"data": {"values": [{"ref": 0}]}, "mark": {"type": "rule", "color": "#333", "strokeWidth": 1.2, "strokeDash": [5, 4]},
         "encoding": {"y": {"field": "ref", "type": "quantitative", "scale": {"domain": [-0.026, 0.026], "nice": false, "zero": false}, "axis": {"orient": "right", "values": [-0.02, 0, 0.02], "tickSize": -12, "labels": false, "title": null}}}},
        {"data": {"values": [{"ref": 0}]}, "mark": {"type": "rule", "color": "#333", "strokeWidth": 1.2, "strokeDash": [4, 4]},
         "encoding": {"x": {"field": "ref", "type": "quantitative", "scale": {"domain": [-1.2, 1.14], "nice": false, "zero": false}, "axis": {"orient": "top", "values": [-1, -0.5, 0, 0.5, 1], "tickSize": -5, "labels": false, "title": null}}}},
        {"data": {"values": [{"label": "19.6 GeV"}]}, "mark": {"type": "text", "align": "left", "baseline": "alphabetic", "font": "DejaVu Sans", "fontWeight": "bold", "fontSize": 21, "color": "#111"},
         "encoding": {"x": {"datum": -0.9, "type": "quantitative", "scale": {"domain": [-1.2, 1.14], "nice": false, "zero": false}, "axis": null}, "y": {"datum": -0.023, "type": "quantitative", "scale": {"domain": [-0.026, 0.026], "nice": false, "zero": false}, "axis": null}, "text": {"field": "label"}}},
        {"data": {"name": "pions"}, "transform": [{"filter": {"field": "energy", "equal": "19.6 GeV"}}],
         "mark": {"type": "point", "shape": "M-1,-0.3H-0.33V-0.87H0.33V-0.3H1V0.3H0.33V0.87H-0.33V0.3H-1Z", "size": 210, "filled": true, "opacity": 1, "stroke": "#0000ff", "strokeWidth": 1.3},
         "encoding": {
           "x": {"field": "rapidity", "type": "quantitative", "scale": {"domain": [-1.2, 1.14], "nice": false, "zero": false}, "axis": {"orient": "bottom", "values": [-1, -0.5, 0, 0.5, 1], "tickSize": -5, "labels": false, "title": null}},
           "y": {"field": "v1", "type": "quantitative", "scale": {"domain": [-0.026, 0.026], "nice": false, "zero": false}, "axis": {"orient": "left", "values": [-0.02, 0, 0.02], "tickSize": -12, "labels": false, "title": null}},
           "fill": {"field": "species", "type": "nominal", "scale": {"domain": ["π⁺", "π⁻"], "range": ["#ffffff", "#0000ff"]}, "legend": null}
         }}
      ]
    },
    {
      "width": 300, "height": 134.5,
      "layer": [
        {"data": {"values": [{"ref": 0}]}, "mark": {"type": "rule", "color": "#333", "strokeWidth": 1.2, "strokeDash": [5, 4]},
         "encoding": {"y": {"field": "ref", "type": "quantitative", "scale": {"domain": [-0.026, 0.026], "nice": false, "zero": false}, "axis": {"orient": "right", "values": [-0.02, 0, 0.02], "tickSize": -12, "labels": false, "title": null}}}},
        {"data": {"values": [{"ref": 0}]}, "mark": {"type": "rule", "color": "#333", "strokeWidth": 1.2, "strokeDash": [4, 4]},
         "encoding": {"x": {"field": "ref", "type": "quantitative", "scale": {"domain": [-1.2, 1.2], "nice": false, "zero": false}, "axis": {"orient": "top", "values": [-1, -0.5, 0, 0.5, 1], "tickSize": -5, "labels": false, "title": null}}}},
        {"data": {"name": "protons"}, "transform": [{"filter": "datum.energy == '11.5 GeV' && datum.err > 0"}],
         "mark": {"type": "errorbar", "color": "#ff0000", "thickness": 3, "clip": true},
         "encoding": {"x": {"field": "rapidity", "type": "quantitative", "scale": {"domain": [-1.2, 1.2], "nice": false, "zero": false}, "axis": null}, "y": {"field": "v1", "type": "quantitative", "scale": {"domain": [-0.026, 0.026], "nice": false, "zero": false}, "axis": null}, "yError": {"field": "err"}}},
        {"data": {"name": "protons"}, "transform": [{"filter": {"field": "energy", "equal": "11.5 GeV"}}],
         "mark": {"type": "point", "shape": "M-1,0A1,0.72,0,1,1,1,0A1,0.72,0,1,1,-1,0Z", "size": 290, "filled": true, "opacity": 1, "stroke": "#ff0000", "strokeWidth": 1.5},
         "encoding": {
           "x": {"field": "rapidity", "type": "quantitative", "scale": {"domain": [-1.2, 1.2], "nice": false, "zero": false}, "axis": {"orient": "bottom", "values": [-1, -0.5, 0, 0.5, 1], "tickSize": -5, "labels": false, "title": null}},
           "y": {"field": "v1", "type": "quantitative", "scale": {"domain": [-0.026, 0.026], "nice": false, "zero": false}, "axis": {"orient": "left", "values": [-0.02, 0, 0.02], "tickSize": -12, "labelPadding": 18, "labelExpr": "datum.value + ''", "title": null}},
           "fill": {"field": "species", "type": "nominal", "scale": {"domain": ["p", "p̄"], "range": ["#ff0000", "#ffffff"]}, "legend": null}
         }}
      ]
    },
    {
      "width": 281, "height": 134.5,
      "layer": [
        {"data": {"values": [{"ref": 0}]}, "mark": {"type": "rule", "color": "#333", "strokeWidth": 1.2, "strokeDash": [5, 4]},
         "encoding": {"y": {"field": "ref", "type": "quantitative", "scale": {"domain": [-0.026, 0.026], "nice": false, "zero": false}, "axis": {"orient": "right", "values": [-0.02, 0, 0.02], "tickSize": -12, "labels": false, "title": null}}}},
        {"data": {"values": [{"ref": 0}]}, "mark": {"type": "rule", "color": "#333", "strokeWidth": 1.2, "strokeDash": [4, 4]},
         "encoding": {"x": {"field": "ref", "type": "quantitative", "scale": {"domain": [-1.2, 1.14], "nice": false, "zero": false}, "axis": {"orient": "top", "values": [-1, -0.5, 0, 0.5, 1], "tickSize": -5, "labels": false, "title": null}}}},
        {"data": {"values": [{"label": "11.5 GeV"}]}, "mark": {"type": "text", "align": "left", "baseline": "alphabetic", "font": "DejaVu Sans", "fontWeight": "bold", "fontSize": 21, "color": "#111"},
         "encoding": {"x": {"datum": -0.9, "type": "quantitative", "scale": {"domain": [-1.2, 1.14], "nice": false, "zero": false}, "axis": null}, "y": {"datum": -0.023, "type": "quantitative", "scale": {"domain": [-0.026, 0.026], "nice": false, "zero": false}, "axis": null}, "text": {"field": "label"}}},
        {"data": {"name": "pions"}, "transform": [{"filter": {"field": "energy", "equal": "11.5 GeV"}}],
         "mark": {"type": "point", "shape": "M-1,-0.3H-0.33V-0.87H0.33V-0.3H1V0.3H0.33V0.87H-0.33V0.3H-1Z", "size": 210, "filled": true, "opacity": 1, "stroke": "#0000ff", "strokeWidth": 1.3},
         "encoding": {
           "x": {"field": "rapidity", "type": "quantitative", "scale": {"domain": [-1.2, 1.14], "nice": false, "zero": false}, "axis": {"orient": "bottom", "values": [-1, -0.5, 0, 0.5, 1], "tickSize": -5, "labels": false, "title": null}},
           "y": {"field": "v1", "type": "quantitative", "scale": {"domain": [-0.026, 0.026], "nice": false, "zero": false}, "axis": {"orient": "left", "values": [-0.02, 0, 0.02], "tickSize": -12, "labels": false, "title": null}},
           "fill": {"field": "species", "type": "nominal", "scale": {"domain": ["π⁺", "π⁻"], "range": ["#ffffff", "#0000ff"]}, "legend": null}
         }}
      ]
    },
    {
      "width": 300, "height": 134.5,
      "layer": [
        {"data": {"values": [{"ref": 0}]}, "mark": {"type": "rule", "color": "#333", "strokeWidth": 1.2, "strokeDash": [5, 4]},
         "encoding": {"y": {"field": "ref", "type": "quantitative", "scale": {"domain": [-0.026, 0.026], "nice": false, "zero": false}, "axis": {"orient": "right", "values": [-0.02, 0, 0.02], "tickSize": -12, "labels": false, "title": null}}}},
        {"data": {"values": [{"ref": 0}]}, "mark": {"type": "rule", "color": "#333", "strokeWidth": 1.2, "strokeDash": [4, 4]},
         "encoding": {"x": {"field": "ref", "type": "quantitative", "scale": {"domain": [-1.2, 1.2], "nice": false, "zero": false}, "axis": {"orient": "top", "values": [-1, -0.5, 0, 0.5, 1], "tickSize": -5, "labels": false, "title": null}}}},
        {"data": {"name": "protons"}, "transform": [{"filter": "datum.energy == '7.7 GeV' && datum.err > 0"}],
         "mark": {"type": "errorbar", "color": "#ff0000", "thickness": 3, "clip": true},
         "encoding": {"x": {"field": "rapidity", "type": "quantitative", "scale": {"domain": [-1.2, 1.2], "nice": false, "zero": false}, "axis": null}, "y": {"field": "v1", "type": "quantitative", "scale": {"domain": [-0.026, 0.026], "nice": false, "zero": false}, "axis": null}, "yError": {"field": "err"}}},
        {"data": {"name": "protons"}, "transform": [{"filter": {"field": "energy", "equal": "7.7 GeV"}}],
         "mark": {"type": "point", "shape": "M-1,0A1,0.72,0,1,1,1,0A1,0.72,0,1,1,-1,0Z", "size": 290, "filled": true, "opacity": 1, "stroke": "#ff0000", "strokeWidth": 1.5},
         "encoding": {
           "x": {"field": "rapidity", "type": "quantitative", "scale": {"domain": [-1.2, 1.2], "nice": false, "zero": false}, "axis": {"orient": "bottom", "values": [-1, -0.5, 0, 0.5, 1], "tickSize": -5, "labelPadding": 13, "labelExpr": "datum.value + ''", "title": "y", "titleFontSize": 38, "titleAnchor": "end", "titleAlign": "center", "titlePadding": -8}},
           "y": {"field": "v1", "type": "quantitative", "scale": {"domain": [-0.026, 0.026], "nice": false, "zero": false}, "axis": {"orient": "left", "values": [-0.02, 0, 0.02], "tickSize": -12, "labelPadding": 18, "labelExpr": "datum.value + ''", "title": null}},
           "fill": {"field": "species", "type": "nominal", "scale": {"domain": ["p", "p̄"], "range": ["#ff0000", "#ffffff"]}, "legend": null}
         }}
      ]
    },
    {
      "width": 281, "height": 134.5,
      "layer": [
        {"data": {"values": [{"ref": 0}]}, "mark": {"type": "rule", "color": "#333", "strokeWidth": 1.2, "strokeDash": [5, 4]},
         "encoding": {"y": {"field": "ref", "type": "quantitative", "scale": {"domain": [-0.026, 0.026], "nice": false, "zero": false}, "axis": {"orient": "right", "values": [-0.02, 0, 0.02], "tickSize": -12, "labels": false, "title": null}}}},
        {"data": {"values": [{"ref": 0}]}, "mark": {"type": "rule", "color": "#333", "strokeWidth": 1.2, "strokeDash": [4, 4]},
         "encoding": {"x": {"field": "ref", "type": "quantitative", "scale": {"domain": [-1.2, 1.14], "nice": false, "zero": false}, "axis": {"orient": "top", "values": [-1, -0.5, 0, 0.5, 1], "tickSize": -5, "labels": false, "title": null}}}},
        {"data": {"values": [{"label": "7.7 GeV"}]}, "mark": {"type": "text", "align": "left", "baseline": "alphabetic", "font": "DejaVu Sans", "fontWeight": "bold", "fontSize": 21, "color": "#111"},
         "encoding": {"x": {"datum": -0.9, "type": "quantitative", "scale": {"domain": [-1.2, 1.14], "nice": false, "zero": false}, "axis": null}, "y": {"datum": -0.023, "type": "quantitative", "scale": {"domain": [-0.026, 0.026], "nice": false, "zero": false}, "axis": null}, "text": {"field": "label"}}},
        {"data": {"name": "pions"}, "transform": [{"filter": {"field": "energy", "equal": "7.7 GeV"}}],
         "mark": {"type": "point", "shape": "M-1,-0.3H-0.33V-0.87H0.33V-0.3H1V0.3H0.33V0.87H-0.33V0.3H-1Z", "size": 210, "filled": true, "opacity": 1, "stroke": "#0000ff", "strokeWidth": 1.3},
         "encoding": {
           "x": {"field": "rapidity", "type": "quantitative", "scale": {"domain": [-1.2, 1.14], "nice": false, "zero": false}, "axis": {"orient": "bottom", "values": [-1, -0.5, 0, 0.5, 1], "tickSize": -5, "labelPadding": 13, "labelExpr": "datum.value + ''", "title": null}},
           "y": {"field": "v1", "type": "quantitative", "scale": {"domain": [-0.026, 0.026], "nice": false, "zero": false}, "axis": {"orient": "left", "values": [-0.02, 0, 0.02], "tickSize": -12, "labels": false, "title": null}},
           "fill": {"field": "species", "type": "nominal", "scale": {"domain": ["π⁺", "π⁻"], "range": ["#ffffff", "#0000ff"]}, "legend": null}
         }}
      ]
    }
  ],
  "config": {
    "view": {"stroke": "#222", "strokeWidth": 1.6},
    "axis": {
      "domain": false,
      "grid": false,
      "tickColor": "#222",
      "tickWidth": 1.6,
      "labelFont": "DejaVu Sans",
      "labelFontWeight": "bold",
      "labelFontSize": 21,
      "labelColor": "#111",
      "titleFont": "DejaVu Sans",
      "titleFontWeight": "bold",
      "titleColor": "#111"
    }
  }
}
